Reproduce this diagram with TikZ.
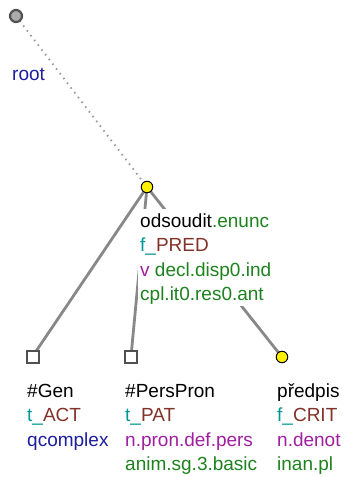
\documentclass[tikz,border=0pt]{standalone}
\usepackage{fontspec}
\setmainfont{Liberation Sans}
\usetikzlibrary{backgrounds}
\definecolor{edgegray}{RGB}{136,136,136}
\definecolor{dotgray}{RGB}{150,150,150}
\definecolor{bordergray}{RGB}{80,80,80}
\definecolor{rootfill}{RGB}{170,170,170}
\definecolor{tealc}{RGB}{0,150,150}
\definecolor{brownc}{RGB}{130,50,40}
\definecolor{bluec}{RGB}{30,30,160}
\definecolor{purplec}{RGB}{160,30,160}
\definecolor{greenc}{RGB}{30,130,30}
\definecolor{yellowc}{RGB}{255,240,0}
\newcommand{\firststrut}{\rule{0pt}{16pt}}
\tikzset{
  rootnode/.style={circle,draw=bordergray,fill=rootfill,line width=2.2pt,minimum size=12pt,inner sep=0pt},
  yelnode/.style={circle,draw=black,fill=yellowc,line width=1pt,minimum size=11.5pt,inner sep=0pt},
  sqnode/.style={rectangle,draw=bordergray,fill=white,line width=2pt,minimum size=12pt,inner sep=0pt},
  edge/.style={draw=edgegray,line width=2.8pt},
  dotedge/.style={draw=dotgray,line width=1.8pt,dash pattern=on 1.5pt off 4.5pt},
  lbl/.style={font=\fontsize{19}{24.4}\selectfont,align=left,inner sep=2pt,fill=white,anchor=north west}
}
\begin{document}
\begin{tikzpicture}[x=1pt,y=-1pt]
\useasboundingbox (0,0) rectangle (345,477);
\node[rootnode] (root) at (16,16) {};
\node[yelnode] (pred) at (147,187) {};
\node[sqnode] (gen) at (32.5,356.5) {};
\node[sqnode] (pers) at (131,356.5) {};
\node[yelnode] (predpis) at (282,357) {};
\begin{pgfonlayer}{background}
\draw[dotedge] (root.center) -- (pred.center);
\draw[edge] (pred.center) -- (gen.center);
\draw[edge] (pred.center) -- (pers.center);
\draw[edge] (pred.center) -- (predpis.center);
\end{pgfonlayer}
\node[lbl,anchor=base west,fill=none] (rootlbl) at (10,80) {\color{bluec}root};
\node[lbl] (predlbl) at (138,209) {\firststrut odsoudit{\color{greenc}.enunc}\\
{\color{tealc}f\_}{\color{brownc}PRED}\\
{\color{purplec}v} {\color{greenc}decl.disp0.ind}\\
{\color{greenc}cpl.it0.res0.ant}};
\node[lbl] (genlbl) at (25,379.3) {\firststrut\#Gen\\
{\color{tealc}t\_}{\color{brownc}ACT}\\
{\color{bluec}qcomplex}};
\node[lbl] (perslbl) at (123,379.3) {\firststrut\#PersPron\\
{\color{tealc}t\_}{\color{brownc}PAT}\\
{\color{purplec}n.pron.def.pers}\\
{\color{greenc}anim.sg.3.basic}};
\node[lbl] (predpislbl) at (275,379.3) {\firststrut předpis\\
{\color{tealc}f\_}{\color{brownc}CRIT}\\
{\color{purplec}n.denot}\\
{\color{greenc}inan.pl}};
\end{tikzpicture}
\end{document}
